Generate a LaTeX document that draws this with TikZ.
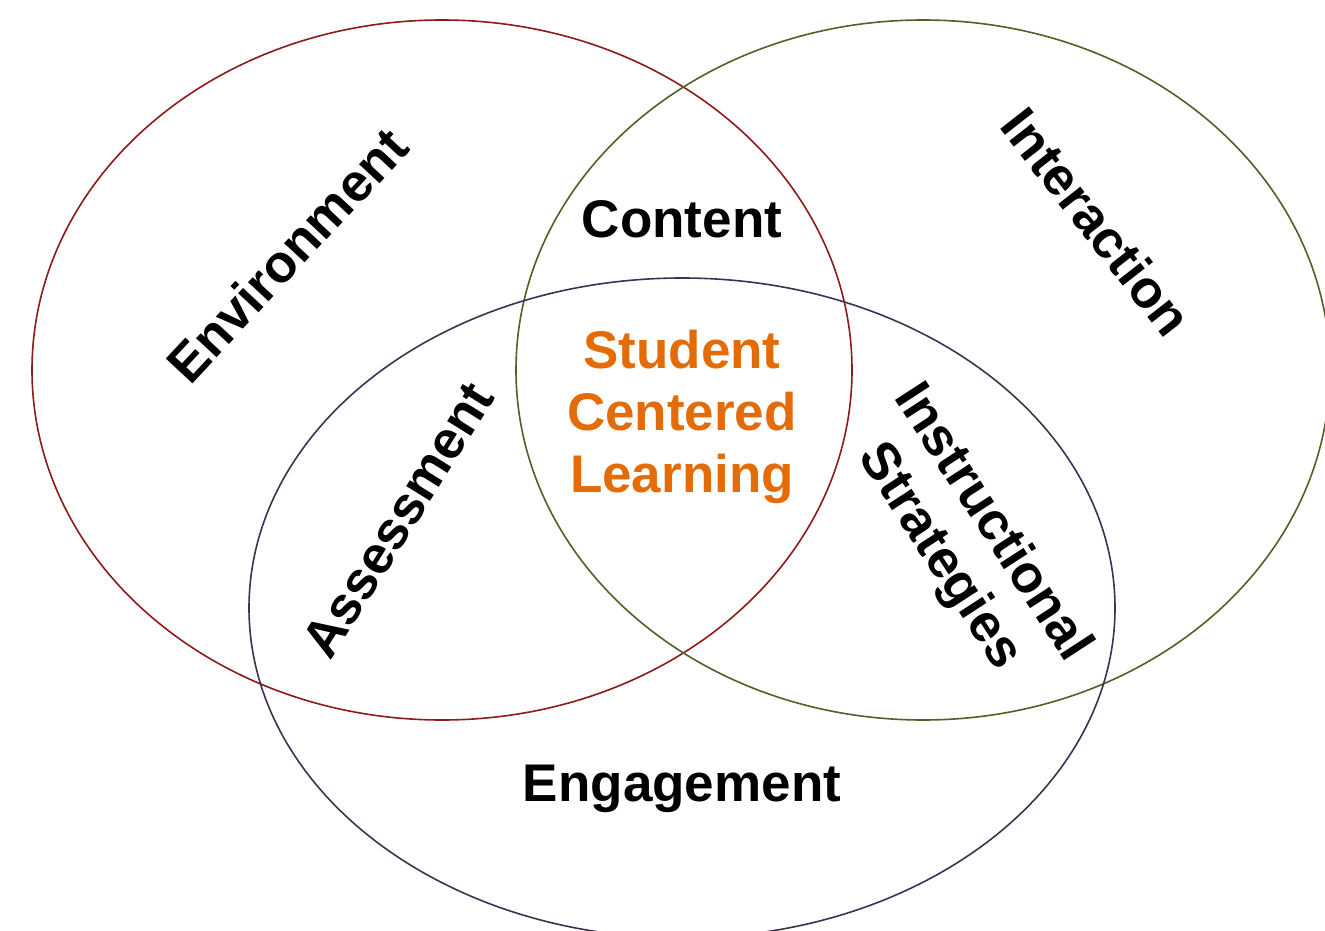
\documentclass[tikz,border=0pt]{standalone}
\usepackage{fontspec}
\setmainfont{Liberation Sans}
\definecolor{envred}{HTML}{8E1B1B}
\definecolor{intgreen}{HTML}{4F6228}
\definecolor{engpurple}{HTML}{3F3151}
\definecolor{sclorange}{HTML}{E36C09}
\tikzset{
  ring/.style={line width=1.6pt},
  lab/.style={font=\fontsize{53}{62}\selectfont\bfseries, text=black, inner sep=0pt, align=center},
  core/.style={lab, text=sclorange}
}
\begin{document}
\begin{tikzpicture}[x=1pt,y=-1pt]
\useasboundingbox (0,0) rectangle (1325,931);
\fill[white] (0,0) rectangle (1325,931);
\begin{scope}
\clip (0,0) rectangle (1325,931);
\draw[ring, envred] (442,370) ellipse [x radius=410, y radius=350];
\draw[ring, intgreen] (923,370) ellipse [x radius=407, y radius=350];
\draw[ring, engpurple] (682,608) ellipse [x radius=433, y radius=330];
\end{scope}
\node[lab, rotate=47] (env) at (287,255) {Environment};
\node[lab, rotate=-52] (int) at (1097,222) {Interaction};
\node[lab] (con) at (682,219) {Content};
\node[core] (scl) at (682,417) {Student\\Centered\\Learning};
\node[lab, rotate=58] (ass) at (398,520) {Assessment};
\node[lab, rotate=-57] (ins) at (965,540) {Instructional\\Strategies};
\node[lab] (eng) at (682,789) {Engagement};
\end{tikzpicture}
\end{document}
